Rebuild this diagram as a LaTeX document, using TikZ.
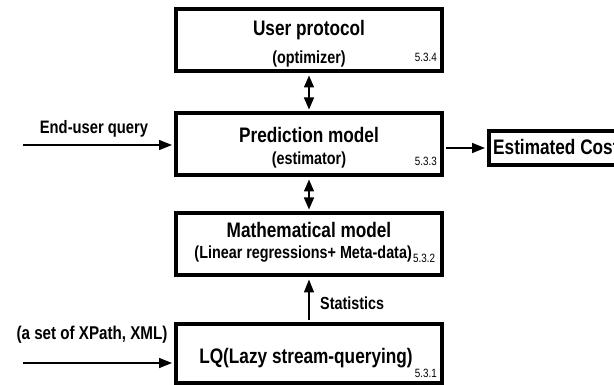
\documentclass[tikz,border=0pt]{standalone}
\usepackage{fontspec}
\setmainfont{Liberation Sans}[FakeStretch=0.82]
\usetikzlibrary{arrows.meta}
\tikzset{
  blk/.style={draw, line width=4pt, minimum width=266pt, minimum height=62pt, inner sep=0pt},
  ttl/.style={font=\bfseries\fontsize{21}{24}\selectfont, inner sep=0pt},
  sub/.style={font=\bfseries\fontsize{17.5}{20}\selectfont, inner sep=0pt},
  lbl/.style={font=\bfseries\fontsize{18}{21}\selectfont, inner sep=0pt},
  num/.style={font=\fontsize{12}{14}\selectfont, inner sep=0pt},
  conn/.style={line width=1.5pt, -{Triangle[length=13pt,width=10pt]}},
  dconn/.style={line width=1.5pt, {Triangle[length=12pt,width=10pt]}-{Triangle[length=12pt,width=10pt]}, shorten >=2pt, shorten <=2pt}
}
\begin{document}
\begin{tikzpicture}[x=1pt,y=-1pt]
\useasboundingbox (0,0) rectangle (614,385);
\clip (0,0) rectangle (614,385);
% boxes
\node[blk] (b1) at (309,40.5) {};
\node[blk] (b2) at (309,144.5) {};
\node[blk] (b3) at (309,244.5) {};
\node[blk, minimum height=59pt] (b4) at (309,353) {};
\node[draw, line width=4pt, minimum width=160pt, minimum height=34pt, inner sep=0pt] (cost) at (569,148) {};
% texts
\node[ttl] (t1) at (309,30) {User protocol};
\node[sub] (s1) at (309,59) {(optimizer)};
\node[num, anchor=east] (n1) at (437,57) {5.3.4};
\node[ttl] (t2) at (309,135) {Prediction model};
\node[sub] (s2) at (309,160) {(estimator)};
\node[num, anchor=east] (n2) at (437,161) {5.3.3};
\node[ttl] (t3) at (309,230) {Mathematical model};
\node[sub, anchor=east] (s3) at (412,254) {(Linear regressions+ Meta-data)};
\node[num, anchor=west] (n3) at (413,258) {5.3.2};
\node[ttl] (t4) at (306,358) {LQ(Lazy stream-querying)};
\node[num, anchor=east] (n4) at (437,373) {5.3.1};
\node[ttl, anchor=west] (tc) at (493,147) {Estimated Cost};
\node[lbl] (leu) at (94,128.5) {End-user query};
\node[lbl, font=\bfseries\fontsize{18.5}{21}\selectfont] (lxp) at (92,335) {(a set of XPath, XML)};
\node[lbl, anchor=west, font=\bfseries\fontsize{17.5}{20}\selectfont] (lst) at (320,303) {Statistics};
% connectors
\coordinate (eu) at (23,145);
\coordinate (xp) at (23,363);
\draw[conn, shorten >=2pt] (eu) -- (eu -| b2.west);
\draw[conn, shorten >=2pt] (xp) -- (xp -| b4.west);
\draw[conn, shorten >=2pt, shorten <=2pt] (b2.east |- cost.west) -- (cost.west);
\draw[dconn] (b1.south) -- (b2.north);
\draw[dconn] (b2.south) -- (b3.north);
\draw[conn, shorten >=2pt, shorten <=2pt] (b4.north) -- (b3.south);
\end{tikzpicture}
\end{document}
